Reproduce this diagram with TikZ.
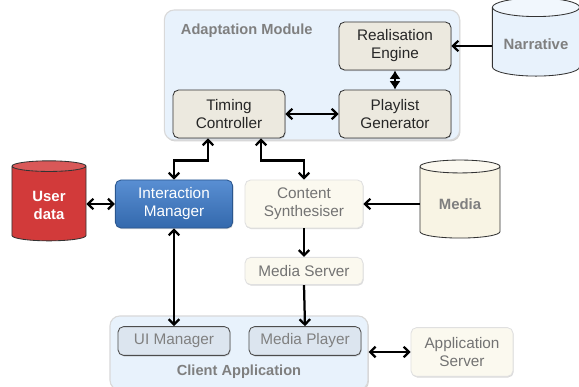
\documentclass[tikz,border=0pt]{standalone}
\usepackage{fontspec}
\setmainfont{Liberation Sans}
\usetikzlibrary{positioning, calc, arrows.meta, shapes.geometric, shadows}

\definecolor{moduleFill}{HTML}{E8F2FC}
\definecolor{engineFill}{HTML}{ECE9DF}
\definecolor{idleFill}{HTML}{FBF9EF}
\definecolor{clientFill}{HTML}{DCE5EF}
\definecolor{activeFill}{HTML}{3C7BCB}
\definecolor{userRed}{HTML}{D23A3A}
\definecolor{mediaFill}{HTML}{F8F4E4}
\definecolor{titleGray}{HTML}{7F7F7F}

\begin{document}
\begin{tikzpicture}[
    x=0.025cm, y=-0.025cm,
    % Styling
    base font/.style={font=\fontsize{10.9}{12.8}\selectfont},
    title text/.style={font=\fontsize{10.4}{12.5}\selectfont\bfseries, text=titleGray},
    any box/.style={
        base font,
        align=center,
        rounded corners=4pt,
        line width=0.6pt,
        drop shadow={shadow xshift=0.5pt, shadow yshift=-0.8pt, opacity=0.3}
    },
    % Boxes inside the adaptation module
    engine box/.style={
        any box,
        fill=engineFill,
        draw=black!80,
        text=black!85,
        minimum width=2.8cm,
        minimum height=1.2cm
    },
    % Greyed-out components
    idle box/.style={
        any box,
        fill=idleFill,
        draw=black!12,
        text=black!55,
        minimum width=2.95cm,
        minimum height=1.2cm
    },
    % The highlighted component
    active box/.style={
        any box,
        top color=activeFill!85!white,
        bottom color=activeFill!85!black,
        draw=activeFill!70!black,
        text=white,
        minimum width=2.93cm,
        minimum height=1.2cm
    },
    client box/.style={
        any box,
        fill=clientFill,
        draw=black!70,
        text=black!50,
        minimum width=2.8cm,
        minimum height=0.72cm
    },
    module box/.style={
        rounded corners=7pt,
        fill=moduleFill,
        draw=black!15,
        line width=0.8pt,
        drop shadow={shadow xshift=0.6pt, shadow yshift=-1pt, opacity=0.35}
    },
    store/.style={
        cylinder,
        shape border rotate=90,
        aspect=0.25,
        draw=black!80,
        line width=0.6pt,
        font=\fontsize{10.6}{12.8}\selectfont\bfseries,
        align=center,
        cylinder uses custom fill
    },
    % One-way and two-way connectors
    link/.style={
        line width=1.6pt,
        -{Straight Barb[length=3.8pt, width=7.5pt]}
    },
    both link/.style={
        line width=1.6pt,
        {Straight Barb[length=3.8pt, width=7.5pt]}-{Straight Barb[length=3.8pt, width=7.5pt]}
    }
]

\useasboundingbox (0,0) rectangle (579,387);

% --- Containers ---
\node[module box, minimum width=7.38cm, minimum height=3.25cm] (adapt) at (312,75) {};
\node[title text, anchor=west] (adapt-title) at (176,31) {Adaptation Module};
\node[module box, minimum width=6.45cm, minimum height=1.85cm] (client) at (239,353) {};
\node[title text] (client-title) at (239,372) {Client Application};

% --- Adaptation Module ---
\node[engine box] (realise) at (395,46) {Realisation\\Engine};
\node[engine box] (playlist) at (395,114) {Playlist\\Generator};
\node[engine box] (timing) at (229,114) {Timing\\Controller};

% --- Middle components ---
\node[active box] (interact) at (174,204) {Interaction\\Manager};
\node[idle box] (synth) at (304,204) {Content\\Synthesiser};
\node[idle box, minimum height=0.68cm] (mserver) at (304,271) {Media Server};
\node[idle box, minimum width=2.55cm, minimum height=1.22cm] (appserver) at (462,352) {Application\\Server};

% --- Client Application ---
\node[client box] (uiman) at (174,341) {UI Manager};
\node[client box] (mplayer) at (305,341) {Media Player};

% --- Data stores ---
\node[store, text=titleGray, cylinder body fill=moduleFill, cylinder end fill=moduleFill!60!white,
      minimum width=2.18cm, minimum height=1.95cm] (narr) at (536,44) {Narrative};
\node[store, text=white, cylinder body fill=userRed, cylinder end fill=userRed!85!white,
      minimum width=1.85cm, minimum height=2.0cm] (user) at (49,205) {User\\data};
\node[store, text=titleGray, cylinder body fill=mediaFill, cylinder end fill=mediaFill!60!white,
      minimum width=2.0cm, minimum height=1.95cm] (media) at (460,204) {Media};

% --- Connectors ---
\draw[link] (narr.west |- realise.east) -- (realise.east);
\draw[line width=1.6pt, {Latex[length=6pt, width=8pt]}-{Latex[length=6pt, width=8pt]}] (realise.south) -- (playlist.north);
\draw[both link] (timing.east) -- (playlist.west);
\draw[both link] ([xshift=-0.525cm]timing.south) -- ++(0,22) -| (interact.north);
\draw[both link] ([xshift=0.8cm]timing.south) -- ++(0,22) -| (synth.north);
\draw[both link] (user.east |- interact.west) -- (interact.west);
\draw[link] (media.west |- synth.east) -- (synth.east);
\draw[link] (synth.south) -- (mserver.north);
\draw[link] (mserver.south) -- (mplayer.north);
\draw[both link] (interact.south) -- (uiman.north);
\draw[both link] (client.east |- appserver.west) -- (appserver.west);

\end{tikzpicture}
\end{document}
